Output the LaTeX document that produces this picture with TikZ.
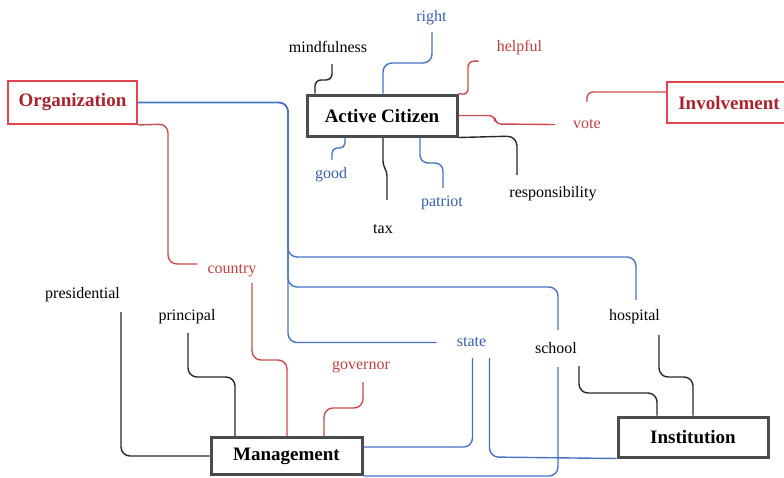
\documentclass[tikz,border=0pt]{standalone}
\usepackage{fontspec}
\setmainfont{Liberation Serif}
\usetikzlibrary{calc}
\definecolor{lred}{RGB}{205,75,80}
\definecolor{tred}{RGB}{192,64,64}
\definecolor{dred}{RGB}{170,35,45}
\definecolor{bred}{RGB}{228,70,80}
\definecolor{lblue}{RGB}{70,115,195}
\definecolor{tblue}{RGB}{55,95,175}
\definecolor{lblk}{RGB}{40,40,40}
\definecolor{gbord}{RGB}{75,75,75}
\begin{document}
\begin{tikzpicture}[x=1pt,y=-1pt,
  lab/.style={font=\fontsize{16}{18}\selectfont, inner sep=0pt, text height=11pt, text depth=4pt, anchor=base},
  gbox/.style={draw=gbord, line width=3pt, fill=white, font=\fontsize{19}{22}\selectfont\bfseries, inner sep=0pt},
  rbox/.style={draw=bred, line width=2pt, fill=white, text=dred, font=\fontsize{19}{22}\selectfont\bfseries, inner sep=0pt},
  conn/.style={line width=1.4pt, rounded corners=9pt},
  rc/.style={conn, draw=lred},
  bc/.style={conn, draw=lblue},
  kc/.style={conn, draw=lblk}]
\useasboundingbox (0,0) rectangle (784,477);
\clip (0,0) rectangle (784,477);

% boxes
\node[rbox, minimum width=129pt, minimum height=43pt] (org) at (72.5,102.5) {Organization};
\node[rbox, minimum width=124pt, minimum height=41pt] (inv) at (729,102.5) {Involvement};
\node[gbox, minimum width=150pt, minimum height=41pt] (ac) at (382,115.5) {Active Citizen};
\node[gbox, minimum width=151pt, minimum height=37pt] (mgmt) at (286.5,456) {Management};
\node[gbox, minimum width=150pt, minimum height=40pt] (inst) at (693,437) {Institution};

% labels
\node[lab] (mind) at (328,52) {mindfulness};
\node[lab, text=tblue] (right) at (431.5,21) {right};
\node[lab, text=tred] (helpful) at (519.5,51) {helpful};
\node[lab, text=tred] (vote) at (587,128) {vote};
\node[lab, text=tblue] (good) at (331,178) {good};
\node[lab] (tax) at (383,233) {tax};
\node[lab, text=tblue] (patriot) at (442,206) {patriot};
\node[lab] (resp) at (553,197) {responsibility};
\node[lab, text=tred] (country) at (232,273.5) {country};
\node[lab] (pres) at (82.5,298) {presidential};
\node[lab] (princ) at (187,320) {principal};
\node[lab, text=tred] (gov) at (361,369) {governor};
\node[lab, text=tblue] (state) at (471.5,346) {state};
\node[lab] (school) at (556,353) {school};
\node[lab] (hosp) at (634.5,320) {hospital};

% Active Citizen connectors
\draw[kc, rounded corners=6pt] ($(mind.south)+(4,8)$) -- (332,80) -- (315,80) -- ($(ac.north)+(-67,0)$);
\draw[bc] ($(right.south)+(0.5,7)$) -- (432,63) -- (383,63) -- ($(ac.north)+(1,0)$);
\draw[rc, rounded corners=6pt] ($(helpful.south west)+(-18,6)$) -- (468,61) -- (468,95) -- (ac.north east);
\draw[rc, rounded corners=6pt] (ac.east) -- (495,115.5) -- (495,124) -- ($(vote.west)+(-18,0)$);
\draw[rc, rounded corners=6pt] ($(inv.west)+(0,-10.5)$) -- (587,92) -- ($(vote.north)+(0,-15)$);
\draw[bc, rounded corners=5pt] ($(ac.south)+(-37,0)$) -- (345,148) -- (332,148) -- ($(good.north)+(1,-7)$);
\draw[kc, rounded corners=4pt] ($(ac.south)+(1,0)$) -- (383,165) -- (387,172) -- ($(tax.north)+(4,-22)$);
\draw[bc, rounded corners=8pt] ($(ac.south)+(38,0)$) -- (420,163) -- (443,163) -- ($(patriot.north)+(1,-7)$);
\draw[kc, rounded corners=10pt] (ac.south east) -- (517,136) -- ($(resp.north)+(-36,-11)$);

% Organization connectors
\draw[bc] (org.east) -- (288,102.5) -- (288,342.5) -- ($(state.west)+(-20,0)$);
\draw[bc] (org.east) -- (288,102.5) -- (288,257) -- (636,257) -- ($(hosp.north)+(1.5,-9)$);
\draw[bc] (org.east) -- (288,102.5) -- (288,287) -- (558,287) -- ($(school.north)+(2,-12)$);
\draw[rc] (org.south east) -- (168,124) -- (168,264) -- ($(country.west)+(-10,-6)$);

% to Management
\draw[bc] ($(school.south)+(2,10)$) -- (558,476) -- (mgmt.south east);
\draw[bc] ($(state.south)+(1,8)$) -- (472.5,447) -- ($(mgmt.east)+(0,-9)$);
\draw[rc] ($(country.south)+(20,5.5)$) -- (252,360) -- (287,360) -- ($(mgmt.north)+(0.5,0)$);
\draw[rc] ($(gov.south)+(2,9)$) -- (363,408) -- (324,408) -- ($(mgmt.north)+(37.5,0)$);
\draw[kc] ($(princ.south)+(1,9)$) -- (188,377) -- (235,377) -- ($(mgmt.north)+(-51.5,0)$);
\draw[kc] ($(pres.south)+(38.5,10)$) -- (121,456) -- (mgmt.west);

% to Institution
\draw[bc] ($(state.south)+(18,8)$) -- (489.5,457) -- (inst.south west);
\draw[kc] ($(school.south)+(23,9)$) -- (579,393) -- (657,393) -- ($(inst.north)+(-36,0)$);
\draw[kc] ($(hosp.south)+(24.5,11)$) -- (659,377) -- (693,377) -- (inst.north);
\end{tikzpicture}
\end{document}
